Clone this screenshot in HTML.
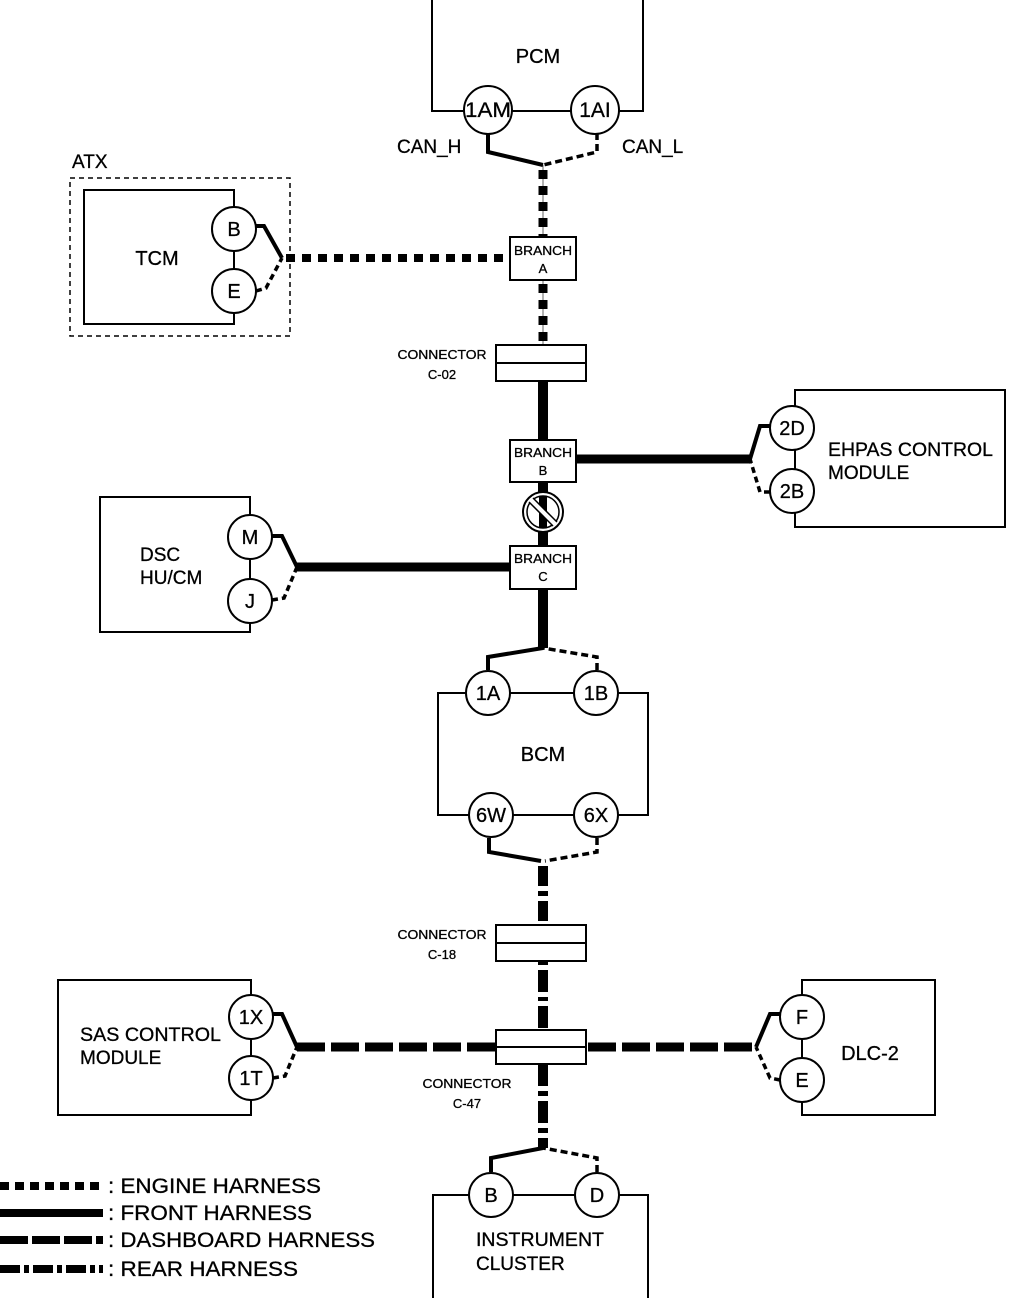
<!DOCTYPE html>
<html><head><style>body{margin:0;background:#fff}svg{display:block}text{font-family:"Liberation Sans",Arial,sans-serif;fill:#000}</style></head><body>
<svg width="1013" height="1298" viewBox="0 0 1013 1298" xmlns="http://www.w3.org/2000/svg">
<g fill="none" stroke="#000" stroke-width="2">
<rect x="432" y="-2" width="211" height="113"/>
<rect x="70" y="178" width="220" height="158" stroke-dasharray="5,4" stroke-width="1.5"/>
<rect x="84" y="190" width="150" height="134"/>
<rect x="795" y="390" width="210" height="137"/>
<rect x="100" y="497" width="150" height="135"/>
<rect x="438" y="693" width="210" height="122"/>
<rect x="58" y="980" width="193" height="135"/>
<rect x="802" y="980" width="133" height="135"/>
<rect x="433" y="1195" width="215" height="105"/>
</g>
<g stroke="#000" fill="none">
<line x1="543" y1="165" x2="543" y2="345" stroke="#999" stroke-width="1.5"/>
<line x1="543" y1="170" x2="543" y2="237" stroke-width="9" stroke-dasharray="9,7"/>
<line x1="543" y1="284" x2="543" y2="345" stroke-width="9" stroke-dasharray="9,7"/>
<line x1="286" y1="258" x2="510" y2="258" stroke-width="8" stroke-dasharray="9,7"/>
<polyline points="488,133 488,152 543,165" stroke-width="4"/>
<polyline points="597,133 597,152 543,165" stroke-width="3.5" stroke-dasharray="7,4"/>
<polyline points="256,226 264,226 282,258" stroke-width="4"/>
<polyline points="256,291 266,288 282,258" stroke-width="3.5" stroke-dasharray="6,4"/>
<line x1="543" y1="381" x2="543" y2="648" stroke-width="10"/>
<line x1="576" y1="459" x2="752" y2="459" stroke-width="9"/>
<polyline points="770,426 760,426 750,459" stroke-width="4"/>
<polyline points="770,492 760,492 750,459" stroke-width="3.5" stroke-dasharray="6,4"/>
<line x1="296" y1="567" x2="510" y2="567" stroke-width="9"/>
<polyline points="272,536 282,536 297,567" stroke-width="4"/>
<polyline points="272,600 284,598 297,567" stroke-width="3.5" stroke-dasharray="6,4"/>
<polyline points="488,670 488,657 543,648" stroke-width="4"/>
<polyline points="597,670 597,657 543,648" stroke-width="3.5" stroke-dasharray="7,4"/>
<polyline points="489,838 489,852 541,861" stroke-width="4"/>
<polyline points="597,838 597,852 545,861" stroke-width="3.5" stroke-dasharray="7,4"/>
<line x1="543" y1="866" x2="543" y2="925" stroke-width="10" stroke-dasharray="20,5,5,5"/>
<line x1="543" y1="961" x2="543" y2="1030" stroke-width="10" stroke-dasharray="4,5,22,5"/>
<line x1="543" y1="1064" x2="543" y2="1148" stroke-width="10" stroke-dasharray="22,5,5,5"/>
<polyline points="491,1172 491,1158 543,1148" stroke-width="4"/>
<polyline points="597,1172 597,1158 543,1148" stroke-width="3.5" stroke-dasharray="7,4"/>
<line x1="297" y1="1047" x2="496" y2="1047" stroke-width="9" stroke-dasharray="28,6"/>
<line x1="588" y1="1047" x2="756" y2="1047" stroke-width="9" stroke-dasharray="28,6"/>
<polyline points="273,1014 282,1014 297,1047" stroke-width="4"/>
<polyline points="273,1078 285,1076 297,1047" stroke-width="3.5" stroke-dasharray="6,4"/>
<polyline points="780,1014 770,1014 756,1047" stroke-width="4"/>
<polyline points="780,1080 770,1078 756,1047" stroke-width="3.5" stroke-dasharray="6,4"/>
<line x1="0" y1="1186" x2="103" y2="1186" stroke-width="8" stroke-dasharray="9,6"/>
<line x1="0" y1="1213" x2="103" y2="1213" stroke-width="8"/>
<line x1="0" y1="1240" x2="103" y2="1240" stroke-width="8" stroke-dasharray="28,4"/>
<line x1="0" y1="1269" x2="103" y2="1269" stroke-width="8" stroke-dasharray="20,4,5,4"/>
</g>
<g fill="#fff" stroke="#000" stroke-width="2">
<rect x="510" y="237" width="66" height="43"/>
<rect x="510" y="440" width="66" height="42"/>
<rect x="510" y="546" width="66" height="43"/>
<rect x="496" y="345" width="90" height="36"/><line x1="496" y1="363" x2="586" y2="363"/>
<rect x="496" y="925" width="90" height="36"/><line x1="496" y1="943" x2="586" y2="943"/>
<rect x="496" y="1030" width="90" height="34"/><line x1="496" y1="1047" x2="586" y2="1047"/>
</g>
<circle cx="543" cy="512" r="20" fill="#fff" stroke="#000" stroke-width="2"/>
<circle cx="543" cy="512" r="16" fill="none" stroke="#000" stroke-width="1.5"/>
<line x1="543" y1="496" x2="543" y2="528" stroke="#000" stroke-width="8"/>
<line x1="531" y1="500" x2="555" y2="524" stroke="#fff" stroke-width="6"/>
<line x1="531" y1="500" x2="555" y2="524" stroke="#000" stroke-width="1.5" transform="translate(-2,2)"/>
<line x1="531" y1="500" x2="555" y2="524" stroke="#000" stroke-width="1.5" transform="translate(2,-2)"/>
<g fill="#fff" stroke="#000" stroke-width="2">
<circle cx="488" cy="110" r="24"/><circle cx="595" cy="110" r="24"/>
<circle cx="234" cy="229" r="22"/><circle cx="234" cy="291" r="22"/>
<circle cx="792" cy="428" r="22"/><circle cx="792" cy="491" r="22"/>
<circle cx="250" cy="537" r="22"/><circle cx="250" cy="601" r="22"/>
<circle cx="488" cy="693" r="22"/><circle cx="596" cy="693" r="22"/>
<circle cx="491" cy="815" r="22"/><circle cx="596" cy="815" r="22"/>
<circle cx="251" cy="1017" r="22"/><circle cx="251" cy="1078" r="22"/>
<circle cx="802" cy="1017" r="22"/><circle cx="802" cy="1080" r="22"/>
<circle cx="491" cy="1195" r="22"/><circle cx="597" cy="1195" r="22"/>
</g>
<g font-size="20" text-anchor="middle" stroke="#000" stroke-width="0.3">
<text x="488" y="117" font-size="21" textLength="46" lengthAdjust="spacingAndGlyphs">1AM</text><text x="595" y="117" font-size="21">1AI</text>
<text x="234" y="236">B</text><text x="234" y="298">E</text>
<text x="792" y="435">2D</text><text x="792" y="498">2B</text>
<text x="250" y="544">M</text><text x="250" y="608">J</text>
<text x="488" y="700">1A</text><text x="596" y="700">1B</text>
<text x="491" y="822">6W</text><text x="596" y="822">6X</text>
<text x="251" y="1024">1X</text><text x="251" y="1085">1T</text>
<text x="802" y="1024">F</text><text x="802" y="1087">E</text>
<text x="491" y="1202">B</text><text x="597" y="1202">D</text>
<text x="538" y="63">PCM</text>
<text x="157" y="265">TCM</text>
<text x="543" y="761">BCM</text>
<text x="870" y="1060">DLC-2</text>
</g>
<g font-size="19" stroke="#000" stroke-width="0.3">
<text x="397" y="153">CAN_H</text><text x="622" y="153">CAN_L</text>
<text x="72" y="168">ATX</text>
<text x="828" y="456" textLength="165" lengthAdjust="spacingAndGlyphs">EHPAS CONTROL</text><text x="828" y="479">MODULE</text>
<text x="140" y="561">DSC</text><text x="140" y="584">HU/CM</text>
<text x="80" y="1041" textLength="141" lengthAdjust="spacingAndGlyphs">SAS CONTROL</text><text x="80" y="1064">MODULE</text>
<text x="476" y="1246" textLength="128" lengthAdjust="spacingAndGlyphs">INSTRUMENT</text><text x="476" y="1270">CLUSTER</text>
</g>
<g font-size="21" stroke="#000" stroke-width="0.3">
<text x="108" y="1193" textLength="213" lengthAdjust="spacingAndGlyphs">: ENGINE HARNESS</text>
<text x="108" y="1220" textLength="204" lengthAdjust="spacingAndGlyphs">: FRONT HARNESS</text>
<text x="108" y="1247" textLength="267" lengthAdjust="spacingAndGlyphs">: DASHBOARD HARNESS</text>
<text x="108" y="1276" textLength="190" lengthAdjust="spacingAndGlyphs">: REAR HARNESS</text>
</g>
<g font-size="13" text-anchor="middle" stroke="#000" stroke-width="0.3">
<text x="543" y="255" textLength="58" lengthAdjust="spacingAndGlyphs">BRANCH</text><text x="543" y="273">A</text>
<text x="543" y="457" textLength="58" lengthAdjust="spacingAndGlyphs">BRANCH</text><text x="543" y="475">B</text>
<text x="543" y="563" textLength="58" lengthAdjust="spacingAndGlyphs">BRANCH</text><text x="543" y="581">C</text>
<text x="442" y="359" textLength="89" lengthAdjust="spacingAndGlyphs">CONNECTOR</text><text x="442" y="379">C-02</text>
<text x="442" y="939" textLength="89" lengthAdjust="spacingAndGlyphs">CONNECTOR</text><text x="442" y="959">C-18</text>
<text x="467" y="1088" textLength="89" lengthAdjust="spacingAndGlyphs">CONNECTOR</text><text x="467" y="1108">C-47</text>
</g>
</svg>
</body></html>
